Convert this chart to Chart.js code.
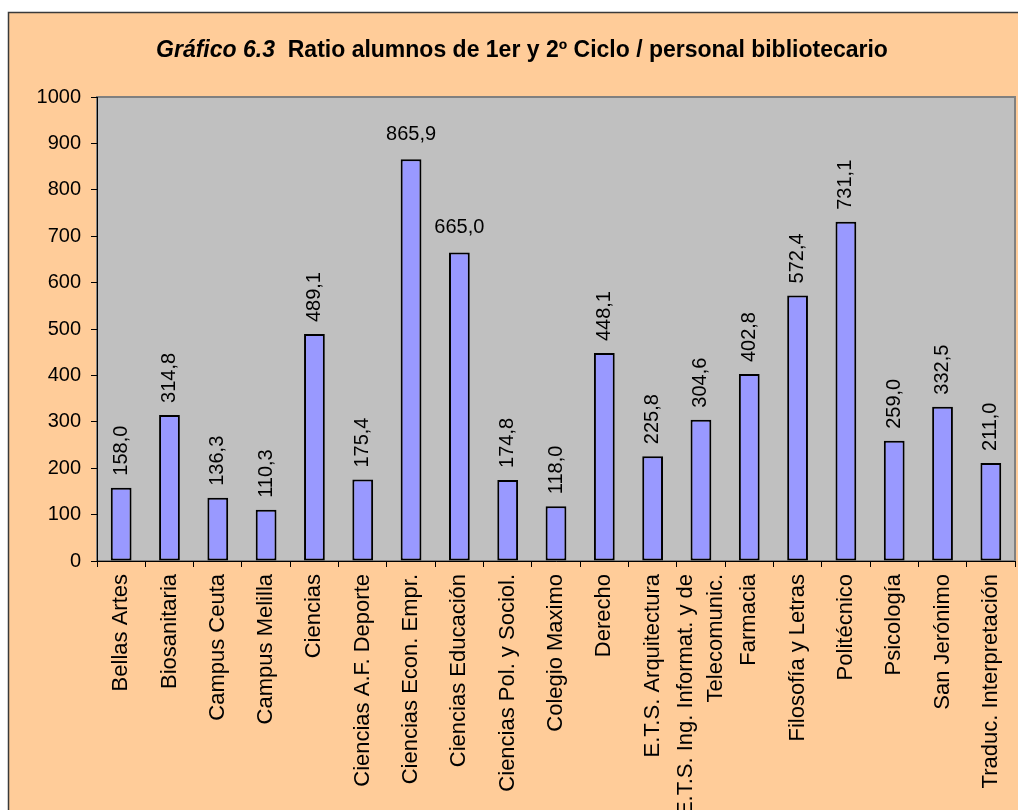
<!DOCTYPE html>
<html lang="es">
<head>
<meta charset="utf-8">
<title>Gráfico 6.3</title>
<script src="https://cdn.jsdelivr.net/npm/chart.js@4.4.0/dist/chart.umd.min.js"></script>
<style>
    html, body { margin: 0; padding: 0; background: #ffffff; overflow: hidden; }
    #wrap { position: relative; width: 1018px; height: 810px; }
</style>
</head>
<body>
<div id="wrap">
    <canvas id="ratioChart" width="1018" height="810"></canvas>
</div>
<script>
// -----------------------------
// DATA
// -----------------------------
const centros = [
    'Bellas Artes',
    'Biosanitaria',
    'Campus Ceuta',
    'Campus Melilla',
    'Ciencias',
    'Ciencias A.F. Deporte',
    'Ciencias Econ. Empr.',
    'Ciencias Educación',
    'Ciencias Pol. y Sociol.',
    'Colegio Maximo',
    'Derecho',
    'E.T.S. Arquitectura',
    ['E.T.S. Ing. Informat. y de', 'Telecomunic.'],
    'Farmacia',
    'Filosofía y Letras',
    'Politécnico',
    'Psicología',
    'San Jerónimo',
    'Traduc. Interpretación'
];

const ratios = [
    158.0, 314.8, 136.3, 110.3, 489.1, 175.4, 865.9, 665.0, 174.8, 118.0,
    448.1, 225.8, 304.6, 402.8, 572.4, 731.1, 259.0, 332.5, 211.0
];

// value labels written flat instead of upright
const flatLabels = [6, 7];

const yMin = 0;
const yMax = 1000;
const yStep = 100;

const tituloCursiva = 'Gráfico 6.3';
const tituloTexto = 'Ratio alumnos de 1er y 2º Ciclo / personal bibliotecario';

const FONT = '"Liberation Sans", Arial, sans-serif';


// -----------------------------
// PLUGINS
// -----------------------------
const fondo = {
    id: 'fondo',
    beforeDraw(chart) {
        const { ctx, chartArea: a, width, height } = chart;
        ctx.save();
        ctx.fillStyle = '#ffffff';
        ctx.fillRect(0, 0, width, height);

        // peach frame
        ctx.fillStyle = '#FFCC99';
        ctx.fillRect(8, 12, width, height);
        ctx.strokeStyle = '#3a3a3a';
        ctx.lineWidth = 1.5;
        ctx.beginPath();
        ctx.moveTo(8.5, height);
        ctx.lineTo(8.5, 12.5);
        ctx.lineTo(width, 12.5);
        ctx.stroke();

        // plot area
        ctx.fillStyle = '#C0C0C0';
        ctx.fillRect(a.left, a.top, a.right - a.left, a.bottom - a.top);
        ctx.strokeStyle = '#808080';
        ctx.lineWidth = 2;
        ctx.strokeRect(a.left, a.top, a.right - a.left, a.bottom - a.top);
        ctx.restore();
    }
};

const titulo = {
    id: 'titulo',
    afterDraw(chart) {
        const ctx = chart.ctx;
        ctx.save();
        ctx.fillStyle = '#000000';
        ctx.textBaseline = 'alphabetic';
        ctx.textAlign = 'left';

        const f1 = 'italic bold 23px ' + FONT;
        const f2 = 'bold 23px ' + FONT;
        ctx.font = f1;
        const w1 = ctx.measureText(tituloCursiva).width;
        ctx.font = f2;
        const w2 = ctx.measureText('  ' + tituloTexto).width;

        const x0 = 522 - (w1 + w2) / 2;
        ctx.font = f1;
        ctx.fillText(tituloCursiva, x0, 57);
        ctx.font = f2;
        ctx.fillText('  ' + tituloTexto, x0 + w1, 57);
        ctx.restore();
    }
};

// category names, upright, ending just under the tick marks
const nombres = {
    id: 'nombres',
    afterDraw(chart) {
        const ctx = chart.ctx;
        const xs = chart.scales.x;
        const lh = 30;
        ctx.save();
        ctx.fillStyle = '#000000';
        ctx.font = '22px ' + FONT;
        ctx.textAlign = 'right';
        ctx.textBaseline = 'middle';
        centros.forEach((label, i) => {
            const lines = Array.isArray(label) ? label : [label];
            ctx.save();
            ctx.translate(xs.getPixelForTick(i), xs.top + 13);
            ctx.rotate(-Math.PI / 2);
            lines.forEach((line, j) => {
                ctx.fillText(line, 0, (j - (lines.length - 1) / 2) * lh);
            });
            ctx.restore();
        });
        ctx.restore();
    }
};

// value on top of every bar
const valores = {
    id: 'valores',
    afterDatasetsDraw(chart) {
        const ctx = chart.ctx;
        const bars = chart.getDatasetMeta(0).data;
        ctx.save();
        ctx.fillStyle = '#000000';
        ctx.font = '20px ' + FONT;
        bars.forEach((bar, i) => {
            const txt = ratios[i].toFixed(1).replace('.', ',');
            if (flatLabels.includes(i)) {
                ctx.textAlign = 'center';
                ctx.textBaseline = 'alphabetic';
                ctx.fillText(txt, bar.x, bar.y - 19);
            } else {
                ctx.save();
                ctx.translate(bar.x, bar.y - 12);
                ctx.rotate(-Math.PI / 2);
                ctx.textAlign = 'left';
                ctx.textBaseline = 'middle';
                ctx.fillText(txt, 0, 0);
                ctx.restore();
            }
        });
        ctx.restore();
    }
};


// -----------------------------
// CHART
// -----------------------------
new Chart(document.getElementById('ratioChart'), {
    type: 'bar',
    data: {
        labels: centros,
        datasets: [
            {
                data: ratios,
                backgroundColor: '#9999FF',
                borderColor: '#000000',
                borderWidth: 2,
                borderSkipped: false,
                barPercentage: 0.43,
                categoryPercentage: 1
            }
        ]
    },
    options: {
        responsive: false,
        animation: false,
        layout: { padding: { top: 97, right: 3, left: 0, bottom: 0 } },
        plugins: {
            legend: { display: false },
            title: { display: false },
            tooltip: { enabled: false }
        },
        scales: {
            x: {
                afterFit: scale => { scale.height = 249; },
                grid: {
                    offset: true,
                    drawOnChartArea: false,
                    color: '#000000',
                    tickLength: 6
                },
                border: { color: '#000000', width: 1 },
                ticks: { display: false }
            },
            y: {
                min: yMin,
                max: yMax,
                afterFit: scale => { scale.width = 97; },
                grid: {
                    drawOnChartArea: false,
                    color: '#000000',
                    tickLength: 6
                },
                border: { color: '#000000', width: 1 },
                ticks: {
                    stepSize: yStep,
                    padding: 10,
                    color: '#000000',
                    font: { family: FONT, size: 20 },
                    callback: v => String(v)
                }
            }
        }
    },
    plugins: [fondo, titulo, nombres, valores]
});
</script>
</body>
</html>
